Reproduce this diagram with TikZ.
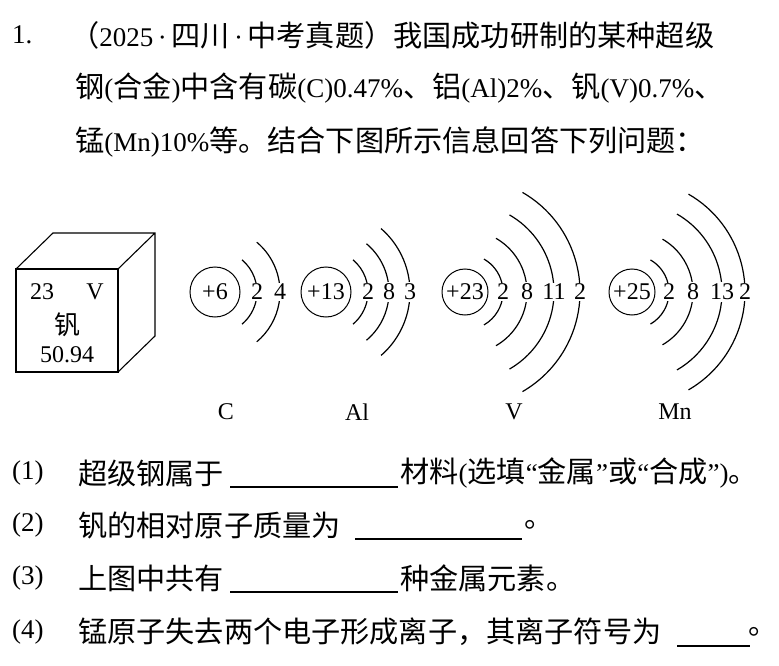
\documentclass[tikz,border=0pt]{standalone}
\usepackage{fontspec}
\setmainfont{Liberation Serif}
\newfontfamily\cjk[Scale=1.08]{Noto Sans CJK SC}
\newcommand\zh[1]{{\cjk #1}}
\begin{document}
\begin{tikzpicture}[x=1pt,y=-1pt,
  txt/.style={anchor=west,inner sep=0pt,font=\fontsize{27}{30}\selectfont},
  dg/.style={inner sep=0pt,font=\fontsize{24}{26}\selectfont},
  nuc/.style={circle,draw,line width=1pt,inner sep=0pt,font=\fontsize{24}{26}\selectfont},
  shl/.style={line width=1.2pt},
  blank/.style={line width=1.1pt}]
\useasboundingbox[fill=white] (0,0) rectangle (779,666);
% question text
\node[txt] (n1) at (12,35) {1.};
\node[txt] (l1) at (70,35) {\zh{（}2025\,·\,\zh{四川}\,·\,\zh{中考真题）我国成功研制的某种超级}};
\node[txt] (l2) at (75,88) {\zh{钢}(\zh{合金})\zh{中含有碳}(C)0.47\%\zh{、铝}(Al)2\%\zh{、钒}(V)0.7\%\zh{、}};
\node[txt] (l3) at (75,142) {\zh{锰}(Mn)10\%\zh{等。结合下图所示信息回答下列问题：}};
% cube
\draw[line width=1.1pt] (16,269) rectangle (118,372);
\draw[line width=1.1pt] (16,269) -- (53,233) -- (155,233) -- (155,336) -- (118,372) (155,233) -- (118,269);
\node[dg] (z) at (42,292) {23};
\node[dg] (s) at (95,292) {V};
\node[dg] (nm) at (67,325) {\zh{钒}};
\node[dg] (m) at (67,355) {50.94};
% atoms
\newcommand\shellx[4]{% cx, R, angle, number
  \draw[shl] (#1,292) ++(-#3:#2) arc[start angle=-#3,end angle=#3,radius=#2];
  \node[dg,fill=white,inner sep=1.5pt] at (#1+#2,292) {#4};}
\node[nuc,minimum size=50pt] (C) at (215,292) {+6};
\shellx{215}{42}{50}{2}\shellx{215}{65}{50}{4}
\node[nuc,minimum size=50pt] (Al) at (326,292) {+13};
\shellx{326}{42}{50}{2}\shellx{326}{63}{50}{8}\shellx{326}{84}{49}{3}
\node[nuc,minimum size=46pt] (V) at (465,292) {+23};
\shellx{465}{38}{60}{2}\shellx{465}{62}{60}{8}\shellx{465}{89}{60}{11}\shellx{465}{115}{60}{2}
\node[nuc,minimum size=46pt] (Mn) at (632,292) {+25};
\shellx{632}{37}{60}{2}\shellx{632}{61}{60}{8}\shellx{632}{90}{60}{13}\shellx{632}{113}{60}{2}
\node[dg] (lc) at (226,412) {C};
\node[dg] (la) at (357,412) {Al};
\node[dg] (lv) at (514,412) {V};
\node[dg] (lm) at (675,412) {Mn};
% questions
\node[txt] (q1) at (12,473) {(1)};
\node[txt] (q1a) at (78,473) {\zh{超级钢属于}};
\draw[blank] (230,487) -- (398,487);
\node[txt] (q1b) at (400,473) {\zh{材料}(\zh{选填}“\zh{金属}”\zh{或}“\zh{合成}”)\zh{。}};
\node[txt] (q2) at (12,525) {(2)};
\node[txt] (q2a) at (78,525) {\zh{钒的相对原子质量为}};
\draw[blank] (355,539) -- (522,539);
\node[txt] (q2b) at (524,525) {\zh{。}};
\node[txt] (q3) at (12,578) {(3)};
\node[txt] (q3a) at (78,578) {\zh{上图中共有}};
\draw[blank] (230,592) -- (398,592);
\node[txt] (q3b) at (400,578) {\zh{种金属元素。}};
\node[txt] (q4) at (12,632) {(4)};
\node[txt] (q4a) at (78,632) {\zh{锰原子失去两个电子形成离子，其离子符号为}};
\draw[blank] (677,646) -- (750,646);
\node[txt] (q4b) at (748,632) {\zh{。}};
\end{tikzpicture}
\end{document}
